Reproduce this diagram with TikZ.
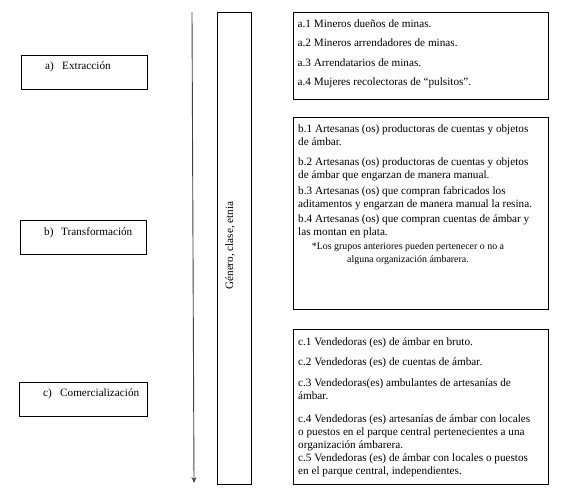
\documentclass[tikz,border=0pt]{standalone}
\usepackage{fontspec}
\setmainfont{Liberation Serif}
\usetikzlibrary{arrows.meta}
\newcommand{\txtfont}{\fontsize{11.2}{13}\selectfont}
\newcommand{\notefont}{\fontsize{9.9}{12.6}\selectfont}
\tikzset{
  box/.style={draw=black, line width=0.9pt, inner sep=0pt, anchor=north west},
  ln/.style={anchor=base west, inner sep=0pt, font=\txtfont},
  cln/.style={anchor=base, inner sep=0pt, font=\notefont},
  stage/.style={anchor=base west, inner sep=0pt, font=\txtfont},
}
\begin{document}
\begin{tikzpicture}[x=1pt,y=-1pt]
\useasboundingbox (0,0) rectangle (568,497);
% left stage boxes
\node[box, minimum width=126pt, minimum height=34pt] (ba) at (21,55) {};
\node[box, minimum width=126pt, minimum height=34pt] (bb) at (20,220) {};
\node[box, minimum width=128pt, minimum height=34pt] (bc) at (19,382) {};
\node[stage] (ta) at (45,69.5) {\makebox[17pt][l]{a)}Extracción};
\node[stage] (tb) at (44,235.5) {\makebox[17pt][l]{b)}Transformación};
\node[stage] (tc) at (43,396.5) {\makebox[17pt][l]{c)}Comercialización};
% arrow
\coordinate (arrS) at (192,12);
\coordinate (arrE) at (194,483);
\draw[line width=0.9pt, draw=black!75, -{Stealth[length=6pt,width=5pt]}] (arrS) -- (arrE);
% tall box
\node[box, minimum width=34pt, minimum height=472pt] (tall) at (217,12) {};
\node[inner sep=0pt, rotate=90, font=\txtfont] (gce) at (230,245.5) {Género, clase, etnia};
% right boxes
\node[box, minimum width=255pt, minimum height=87pt] (ra) at (293,12) {};
\node[box, minimum width=255pt, minimum height=192pt] (rb) at (293,117) {};
\node[box, minimum width=255pt, minimum height=155pt] (rc) at (293,329) {};
% a texts
\node[ln] (a1) at (297.5,27.5) {a.1 Mineros dueños de minas.};
\node[ln] (a2) at (297.5,47) {a.2 Mineros arrendadores de minas.};
\node[ln] (a3) at (297.5,66.5) {a.3 Arrendatarios de minas.};
\node[ln] (a4) at (297.5,86) {a.4 Mujeres recolectoras de “pulsitos”.};
% b texts
\node[ln] (b1a) at (298,132.5) {b.1 Artesanas (os) productoras de cuentas y objetos};
\node[ln] (b1b) at (298,145.5) {de ámbar.};
\node[ln] (b2a) at (298,166) {b.2 Artesanas (os) productoras de cuentas y objetos};
\node[ln] (b2b) at (298,179) {de ámbar que engarzan de manera manual.};
\node[ln] (b3a) at (298,194.5) {b.3 Artesanas (os) que compran fabricados los};
\node[ln] (b3b) at (298,207.5) {aditamentos y engarzan de manera manual la resina.};
\node[ln] (b4a) at (298,222.5) {b.4 Artesanas (os) que compran cuentas de ámbar y};
\node[ln] (b4b) at (298,235.5) {las montan en plata.};
\node[cln] (n1) at (408,250) {*Los grupos anteriores pueden pertenecer o no a};
\node[cln] (n2) at (408,262.6) {alguna organización ámbarera.};
% c texts
\node[ln] (c1) at (298,345.5) {c.1 Vendedoras (es) de ámbar en bruto.};
\node[ln] (c2) at (298,365.5) {c.2 Vendedoras (es) de cuentas de ámbar.};
\node[ln] (c3a) at (298,386.5) {c.3 Vendedoras(es) ambulantes de artesanías de};
\node[ln] (c3b) at (298,399) {ámbar.};
\node[ln] (c4a) at (298,422.5) {c.4 Vendedoras (es) artesanías de ámbar con locales};
\node[ln] (c4b) at (298,435.5) {o puestos en el parque central pertenecientes a una};
\node[ln] (c4c) at (298,448.5) {organización ámbarera.};
\node[ln] (c5a) at (298,461.5) {c.5 Vendedoras (es) de ámbar con locales o puestos};
\node[ln] (c5b) at (298,474.5) {en el parque central, independientes.};
\end{tikzpicture}
\end{document}
